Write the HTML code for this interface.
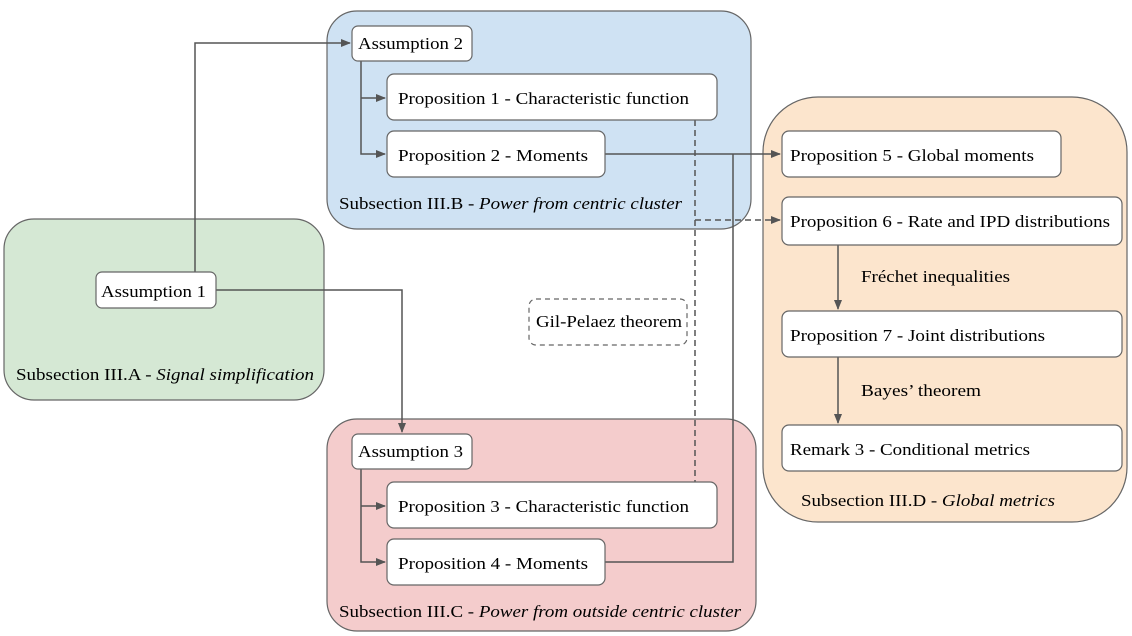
<!DOCTYPE html>
<html><head><meta charset="utf-8"><style>
html,body{margin:0;padding:0;background:#fff;}
svg{display:block;font-family:"Liberation Serif","DejaVu Serif",serif;font-size:17px;}
</style></head><body>
<svg width="1132" height="636" viewBox="0 0 1132 636" xmlns="http://www.w3.org/2000/svg">
<defs><marker id="a" markerWidth="10" markerHeight="10" refX="9" refY="5" orient="auto" markerUnits="userSpaceOnUse"><path d="M0,1 L10,5 L0,9 Z" fill="#555"/></marker></defs>
<g stroke="#666" stroke-width="1.2">
<rect x="4" y="219" width="320" height="181" rx="30" fill="#d5e8d4"/>
<rect x="327" y="11" width="424" height="218" rx="30" fill="#cfe2f3"/>
<rect x="327" y="419" width="429" height="212" rx="30" fill="#f4cccc"/>
<rect x="763" y="97" width="364" height="425" rx="55" fill="#fce5cd"/>
</g>
<g fill="none" stroke="#555" stroke-width="1.5">
<path d="M195,272 V43 H350" marker-end="url(#a)"/>
<path d="M216,290 H402 V432" marker-end="url(#a)"/>
<path d="M361,61 V154 H385" marker-end="url(#a)"/>
<path d="M361,98 H385" marker-end="url(#a)"/>
<path d="M361,469 V562 H385" marker-end="url(#a)"/>
<path d="M361,506 H385" marker-end="url(#a)"/>
<path d="M605,154 H780" marker-end="url(#a)"/>
<path d="M605,562 H733 V154"/>
<path d="M695,120 V482" stroke-dasharray="6,4"/>
<path d="M695,220 H780" stroke-dasharray="6,4" marker-end="url(#a)"/>
<path d="M838,245 V309" marker-end="url(#a)"/>
<path d="M838,357 V423" marker-end="url(#a)"/>
</g>
<g fill="#fff" stroke="#666" stroke-width="1.2">
<rect x="352" y="26" width="120" height="35" rx="6"/>
<rect x="387" y="74" width="330" height="46" rx="7"/>
<rect x="387" y="131" width="218" height="46" rx="7"/>
<rect x="96" y="272" width="120" height="36" rx="6"/>
<rect x="352" y="434" width="120" height="35" rx="6"/>
<rect x="387" y="482" width="330" height="46" rx="7"/>
<rect x="387" y="539" width="218" height="46" rx="7"/>
<rect x="782" y="131" width="279" height="46" rx="7"/>
<rect x="782" y="197" width="340" height="48" rx="7"/>
<rect x="782" y="311" width="340" height="46" rx="7"/>
<rect x="782" y="425" width="340" height="46" rx="7"/>
<rect x="529" y="299" width="158" height="46" rx="7" stroke-dasharray="5,4"/>
</g>
<g fill="#000">
<text x="358" y="49" textLength="105" lengthAdjust="spacingAndGlyphs">Assumption 2</text>
<text x="398" y="104" textLength="291" lengthAdjust="spacingAndGlyphs">Proposition 1 - Characteristic function</text>
<text x="398" y="161" textLength="190" lengthAdjust="spacingAndGlyphs">Proposition 2 - Moments</text>
<text x="101" y="297" textLength="105" lengthAdjust="spacingAndGlyphs">Assumption 1</text>
<text x="358" y="457" textLength="105" lengthAdjust="spacingAndGlyphs">Assumption 3</text>
<text x="398" y="512" textLength="291" lengthAdjust="spacingAndGlyphs">Proposition 3 - Characteristic function</text>
<text x="398" y="569" textLength="190" lengthAdjust="spacingAndGlyphs">Proposition 4 - Moments</text>
<text x="790" y="161" textLength="244" lengthAdjust="spacingAndGlyphs">Proposition 5 - Global moments</text>
<text x="790" y="227" textLength="320" lengthAdjust="spacingAndGlyphs">Proposition 6 - Rate and IPD distributions</text>
<text x="790" y="341" textLength="255" lengthAdjust="spacingAndGlyphs">Proposition 7 - Joint distributions</text>
<text x="790" y="455" textLength="240" lengthAdjust="spacingAndGlyphs">Remark 3 - Conditional metrics</text>
<text x="536" y="327" textLength="146" lengthAdjust="spacingAndGlyphs">Gil-Pelaez theorem</text>
<text x="861" y="282" textLength="149" lengthAdjust="spacingAndGlyphs">Fréchet inequalities</text>
<text x="861" y="396" textLength="120" lengthAdjust="spacingAndGlyphs">Bayes’ theorem</text>
<text x="16" y="380" textLength="298" lengthAdjust="spacingAndGlyphs">Subsection III.A - <tspan font-style="italic">Signal simplification</tspan></text>
<text x="339" y="209" textLength="343" lengthAdjust="spacingAndGlyphs">Subsection III.B - <tspan font-style="italic">Power from centric cluster</tspan></text>
<text x="339" y="617" textLength="402" lengthAdjust="spacingAndGlyphs">Subsection III.C - <tspan font-style="italic">Power from outside centric cluster</tspan></text>
<text x="801" y="506" textLength="254" lengthAdjust="spacingAndGlyphs">Subsection III.D - <tspan font-style="italic">Global metrics</tspan></text>
</g>
</svg>
</body></html>
